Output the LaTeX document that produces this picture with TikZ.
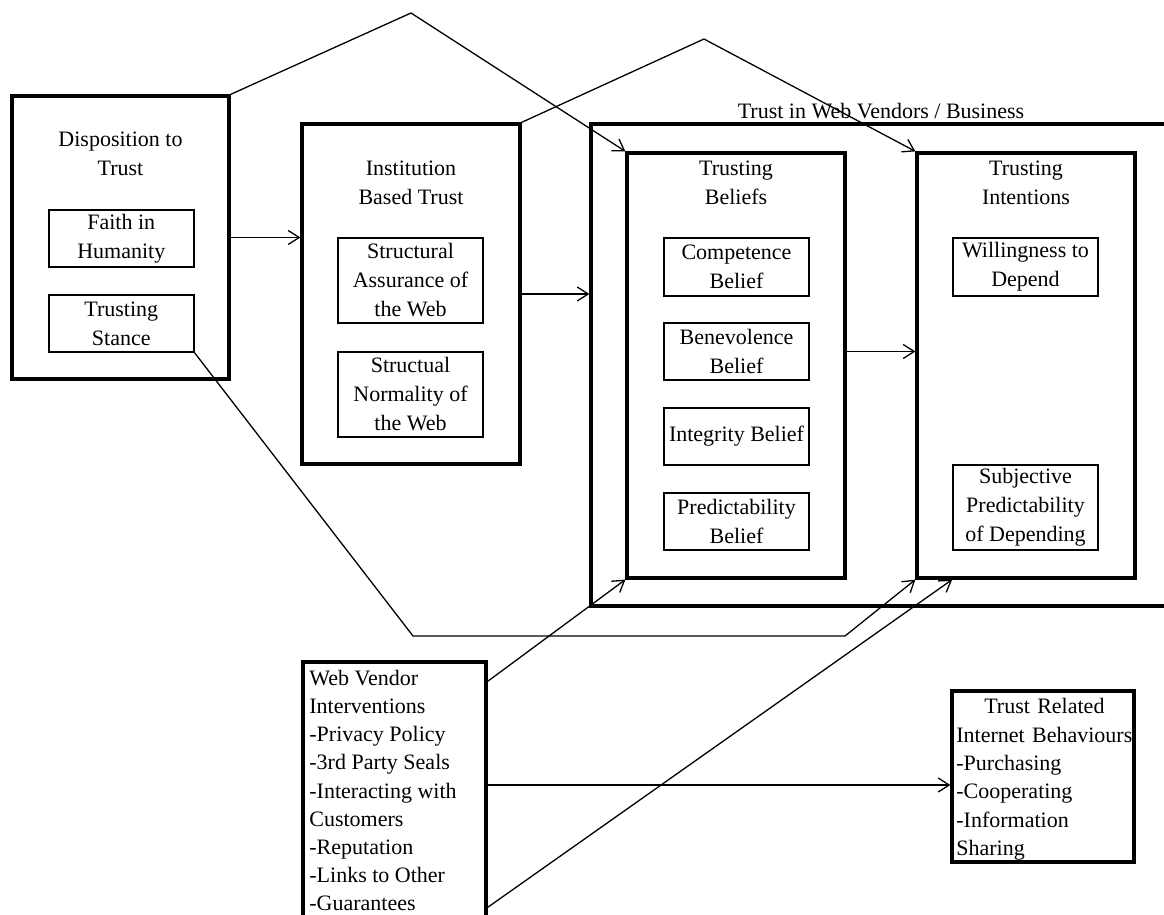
\documentclass[tikz,border=0pt]{standalone}
\usepackage{fontspec}
\setmainfont{Liberation Serif}
\usetikzlibrary{arrows.meta,calc}
\begin{document}
\begin{tikzpicture}[x=0.5pt,y=-0.5pt,
  font=\fontsize{11}{14.5}\selectfont,
  sz/.style 2 args={minimum width=#1*0.5pt, minimum height=#2*0.5pt},
  outer/.style={draw, line width=1.6pt, inner sep=0pt},
  inner/.style={draw, line width=0.85pt, inner sep=0pt, align=center},
  lbl/.style={align=center, inner sep=0pt},
  conn/.style={line width=0.65pt},
  arr/.style={conn, -{Straight Barb[length=5.5pt,width=7pt]}}]
\useasboundingbox (0,0) rectangle (1164,915);

% Disposition to trust
\node[outer, sz={217}{283}] (disp) at (120.5,237.5) {};
\node[lbl] (dispt) at (120.5,153.5) {Disposition to\\Trust};
\node[inner, sz={145}{57}] (faith) at (121.3,238.5) {Faith in\\Humanity};
\node[inner, sz={145}{57}] (stance) at (121.3,323.5) {Trusting\\Stance};

% Institution based trust
\node[outer, sz={218}{340}] (inst) at (411,294) {};
\node[lbl] (instt) at (411,182.5) {Institution\\Based Trust};
\node[inner, sz={145}{85}] (assur) at (410.5,280.5) {Structural\\Assurance of\\the Web};
\node[inner, sz={145}{85}] (norm) at (410.5,394.5) {Structual\\Normality of\\the Web};

% Trust in web vendors
\node[outer, sz={575}{482}] (trust) at (878.5,365) {};
\node[lbl] (trustt) at (881,111) {Trust in Web Vendors / Business};

\node[outer, sz={218}{425}] (beliefs) at (736,365.5) {};
\node[lbl] (beliefst) at (736,182.5) {Trusting\\Beliefs};
\node[inner, sz={145}{58}] (comp) at (736.5,267) {Competence\\Belief};
\node[inner, sz={145}{57}] (benev) at (736.5,351.5) {Benevolence\\Belief};
\node[inner, sz={145}{57}] (integ) at (736.5,436.5) {Integrity Belief};
\node[inner, sz={145}{57}] (pred) at (736.5,521.5) {Predictability\\Belief};

\node[outer, sz={218}{425}] (intent) at (1026,365.5) {};
\node[lbl] (intentt) at (1026,182.5) {Trusting\\Intentions};
\node[inner, sz={145}{58}] (will) at (1025.5,267) {Willingness to\\Depend};
\node[inner, sz={145}{85}] (subj) at (1025.5,507.5) {Subjective\\Predictability\\of Depending};

% Web vendor interventions
\node[outer, sz={183}{268}] (vendor) at (394.5,796) {};
\node[anchor=north west, align=left, inner sep=0pt, font=\fontsize{11}{14.05}\selectfont] (vendort) at (309,670)
  {Web Vendor\\Interventions\\-Privacy Policy\\-3rd Party Seals\\-Interacting with\\Customers\\-Reputation\\-Links to Other\\-Guarantees};

% Trust related behaviours
\node[outer, sz={182}{171}] (behav) at (1043,776.5) {};
\node[anchor=north west, align=left, text width=88pt, inner sep=0pt, font=\fontsize{11}{14.2}\selectfont] (behavt) at (956,698)
  {\makebox[88pt]{Trust Related}\\Internet Behaviours\\-Purchasing\\-Cooperating\\-Information\\Sharing};

% Connectors
\coordinate (peakA) at (411,13);
\coordinate (peakB) at (704,39);
\coordinate (bendA) at (413,636);
\coordinate (bendB) at (845,636);
\draw[arr] (disp.north east) -- (peakA) -- (beliefs.north west);
\draw[arr] (inst.north east) -- (peakB) -- (intent.north west);
\draw[arr] (disp.east) -- (disp.east -| inst.west);
\draw[arr] (inst.east) -- (inst.east -| trust.west);
\draw[arr] (benev.center -| beliefs.east) -- (benev.center -| intent.west);
\draw[arr] (stance.south east) -- (bendA) -- (bendB) -- (intent.south west);
\draw[arr] ($(vendor.north east)+(0,21)$) -- (beliefs.south west);
\coordinate (hb) at ($(behav.west)+(0,8.5)$);
\draw[arr] (hb -| vendor.east) -- (hb);
\draw[arr] ($(vendor.north east)+(0,247)$) -- (subj.west |- intent.south);
\end{tikzpicture}
\end{document}
